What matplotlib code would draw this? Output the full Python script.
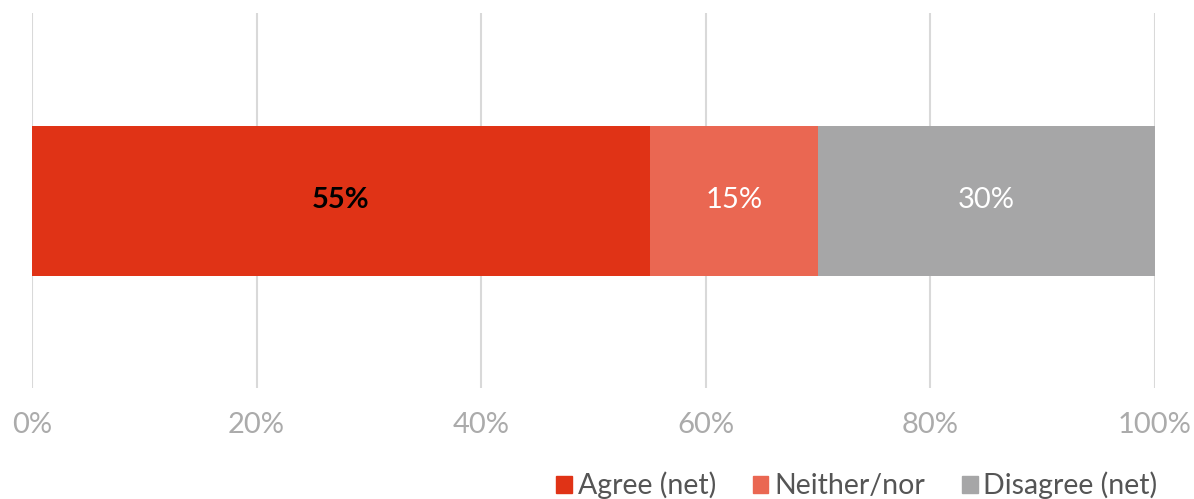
import matplotlib.pyplot as plt
from matplotlib.patches import Patch

# Data
categories = ["Agree (net)", "Neither/nor", "Disagree (net)"]
values = [55, 15, 30]
colors = ["#E03316", "#EA6752", "#A6A6A7"]
label_colors = ["black", "white", "white"]
label_weights = ["bold", "normal", "normal"]
ticks = [0, 20, 40, 60, 80, 100]

plt.rcParams['font.family'] = ['Lato', 'DejaVu Sans']

fig = plt.figure(figsize=(11.94, 4.99), dpi=100)
ax = fig.add_axes([32/1194, 1 - 388/499, (1155-32)/1194, (388-13)/499])

left = 0
for cat, val, col, lc, lw in zip(categories, values, colors, label_colors, label_weights):
    ax.barh(0, val, left=left, height=1.0, color=col, label=cat, zorder=2)
    ax.text(left + val/2, 0, f"{val}%", ha="center", va="center",
            color=lc, fontsize=21, fontweight=lw, zorder=3)
    left += val

ax.set_xlim(0, 100)
ax.set_ylim(-1.25, 1.25)
ax.set_xticks(ticks)
ax.set_xticklabels([f"{t}%" for t in ticks], color="#ABABAB", fontsize=21)
ax.tick_params(axis="x", length=0, pad=17)
ax.set_yticks([])
ax.grid(axis="x", color="#D9D9D9", linewidth=1.5, zorder=0)
for s in ax.spines.values():
    s.set_visible(False)

handles = [Patch(color=c) for c in colors]
fig.legend(handles, categories, loc="lower right", bbox_to_anchor=(1183/1194, -0.052),
           ncol=3, frameon=False, fontsize=20.5, labelcolor="#555555",
           handlelength=0.55, handleheight=0.55, handletextpad=0.2, columnspacing=1.3)

fig.savefig("out.png", dpi=100)
